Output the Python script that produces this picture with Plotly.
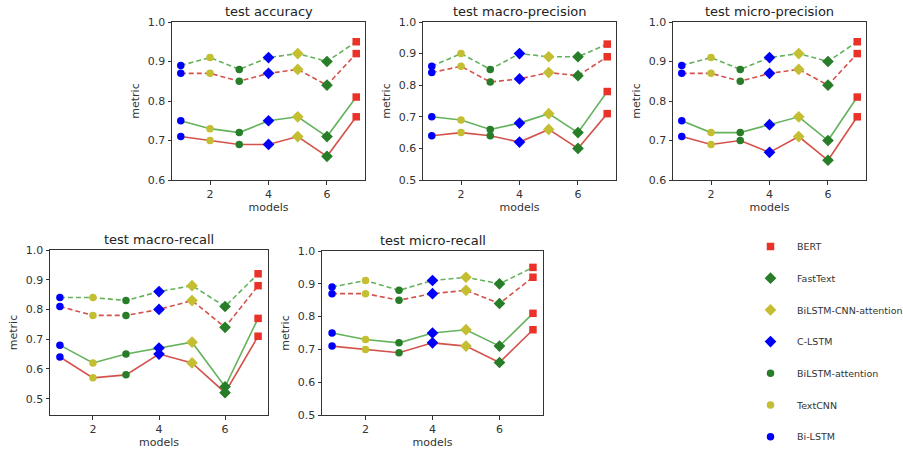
import plotly.graph_objects as go

W, H = 903, 452

models_x = [1, 2, 3, 4, 5, 6, 7]
model_names = ["Bi-LSTM", "TextCNN", "BiLSTM-attention", "C-LSTM",
               "BiLSTM-CNN-attention", "FastText", "BERT"]
panel_titles = ["test accuracy", "test macro-precision", "test micro-precision",
                "test macro-recall", "test micro-recall"]

# each panel: dashed green, dashed red, solid green, solid red
acc_dash_g = [0.89, 0.91, 0.88, 0.91, 0.92, 0.90, 0.95]
acc_dash_r = [0.87, 0.87, 0.85, 0.87, 0.88, 0.84, 0.92]
acc_solid_g = [0.75, 0.73, 0.72, 0.75, 0.76, 0.71, 0.81]
acc_solid_r = [0.71, 0.70, 0.69, 0.69, 0.71, 0.66, 0.76]

mapr_dash_g = [0.86, 0.90, 0.85, 0.90, 0.89, 0.89, 0.93]
mapr_dash_r = [0.84, 0.86, 0.81, 0.82, 0.84, 0.83, 0.89]
mapr_solid_g = [0.70, 0.69, 0.66, 0.68, 0.71, 0.65, 0.78]
mapr_solid_r = [0.64, 0.65, 0.64, 0.62, 0.66, 0.60, 0.71]

mipr_dash_g = [0.89, 0.91, 0.88, 0.91, 0.92, 0.90, 0.95]
mipr_dash_r = [0.87, 0.87, 0.85, 0.87, 0.88, 0.84, 0.92]
mipr_solid_g = [0.75, 0.72, 0.72, 0.74, 0.76, 0.70, 0.81]
mipr_solid_r = [0.71, 0.69, 0.70, 0.67, 0.71, 0.65, 0.76]

mare_dash_g = [0.84, 0.84, 0.83, 0.86, 0.88, 0.81, 0.92]
mare_dash_r = [0.81, 0.78, 0.78, 0.80, 0.83, 0.74, 0.88]
mare_solid_g = [0.68, 0.62, 0.65, 0.67, 0.69, 0.54, 0.77]
mare_solid_r = [0.64, 0.57, 0.58, 0.65, 0.62, 0.52, 0.71]

mire_dash_g = [0.89, 0.91, 0.88, 0.91, 0.92, 0.90, 0.95]
mire_dash_r = [0.87, 0.87, 0.85, 0.87, 0.88, 0.84, 0.92]
mire_solid_g = [0.75, 0.73, 0.72, 0.75, 0.76, 0.71, 0.81]
mire_solid_r = [0.71, 0.70, 0.69, 0.72, 0.71, 0.66, 0.76]

panels_data = [
    (acc_dash_g, acc_dash_r, acc_solid_g, acc_solid_r),
    (mapr_dash_g, mapr_dash_r, mapr_solid_g, mapr_solid_r),
    (mipr_dash_g, mipr_dash_r, mipr_solid_g, mipr_solid_r),
    (mare_dash_g, mare_dash_r, mare_solid_g, mare_solid_r),
    (mire_dash_g, mire_dash_r, mire_solid_g, mire_solid_r),
]
y_ranges = [(0.6, 1.0), (0.5, 1.0), (0.6, 1.0), (0.445, 1.0), (0.5, 1.0)]
x_range = (0.7, 7.3)
x_ticks = [2, 4, 6]

# pixel boxes: left, right, top, bottom
boxes = [(172, 365, 22, 180), (423, 616, 22, 180), (673, 866, 22, 180),
         (50, 268, 250, 415), (322, 543, 251, 415)]

GREEN_LINE = "rgb(100,178,92)"
RED_LINE = "rgb(212,82,76)"
marker_style = {
    "Bi-LSTM": ("circle", "rgb(0,0,250)", 7.5),
    "TextCNN": ("circle", "rgb(195,190,50)", 7.5),
    "BiLSTM-attention": ("circle", "rgb(40,125,40)", 7.5),
    "C-LSTM": ("diamond", "rgb(0,0,250)", 9),
    "BiLSTM-CNN-attention": ("diamond", "rgb(195,190,50)", 9),
    "FastText": ("diamond", "rgb(40,125,40)", 9),
    "BERT": ("square", "rgb(235,50,40)", 7.5),
}
legend_order = ["BERT", "FastText", "BiLSTM-CNN-attention", "C-LSTM",
                "BiLSTM-attention", "TextCNN", "Bi-LSTM"]

fig = go.Figure()
layout = dict(width=W, height=H, margin=dict(l=0, r=0, t=0, b=0, autoexpand=False),
              template="none",
              paper_bgcolor="white", plot_bgcolor="white",
              font=dict(family="DejaVu Sans", size=11, color="#333"),
              annotations=[])

for i, (data, yr, box) in enumerate(zip(panels_data, y_ranges, boxes)):
    n = "" if i == 0 else str(i + 1)
    xa, ya = "x" + n, "y" + n
    l, r, t, b = box
    ax_common = dict(showline=True, linecolor="#333", linewidth=1, mirror=True,
                     ticks="outside", ticklen=3.5, tickcolor="#333",
                     showgrid=False, zeroline=False, automargin=False,
                     tickfont=dict(size=11, color="#333"))
    layout["xaxis" + n] = dict(domain=[l / W, r / W], range=list(x_range),
                               tickvals=x_ticks, anchor=ya,
                               title=dict(text="models", standoff=2,
                                          font=dict(size=11, color="#333")),
                               **ax_common)
    layout["yaxis" + n] = dict(domain=[1 - b / H, 1 - t / H], range=list(yr),
                               dtick=0.1, tickformat=".1f", anchor=xa,
                               title=dict(text="metric", standoff=5,
                                          font=dict(size=11, color="#333")),
                               **ax_common)
    layout["annotations"].append(dict(
        text=panel_titles[i], x=(l + r) / 2 / W, y=1 - (t - 1) / H,
        xref="paper", yref="paper", xanchor="center", yanchor="bottom",
        showarrow=False, font=dict(size=13, color="#222")))

    dg, dr, sg, sr = data
    for ys, col, dash in [(dg, GREEN_LINE, "5px,3px"), (dr, RED_LINE, "5px,3px"),
                          (sg, GREEN_LINE, "solid"), (sr, RED_LINE, "solid")]:
        fig.add_trace(go.Scatter(x=models_x, y=ys, mode="lines",
                                 line=dict(color=col, width=1.6, dash=dash),
                                 xaxis=xa, yaxis=ya, showlegend=False,
                                 hoverinfo="skip"))
    for name in legend_order:
        k = model_names.index(name)
        sym, col, size = marker_style[name]
        fig.add_trace(go.Scatter(
            x=[models_x[k]] * 4, y=[dg[k], dr[k], sg[k], sr[k]], mode="markers",
            marker=dict(symbol=sym, color=col, size=size, line=dict(width=0)),
            name=name, legendgroup=name, showlegend=(i == 0),
            xaxis=xa, yaxis=ya))

layout["legend"] = dict(x=744 / W, y=1 - 232 / H, xanchor="left", yanchor="top",
                        bgcolor="rgba(0,0,0,0)", font=dict(size=9.5, color="#333"),
                        tracegroupgap=12.7, itemsizing="trace", itemwidth=43,
                        traceorder="grouped")
fig.update_layout(**layout)
fig.write_html("out.html", config={"displayModeBar": False},
               post_script="document.body.style.margin='0';document.body.style.overflow='hidden';")
